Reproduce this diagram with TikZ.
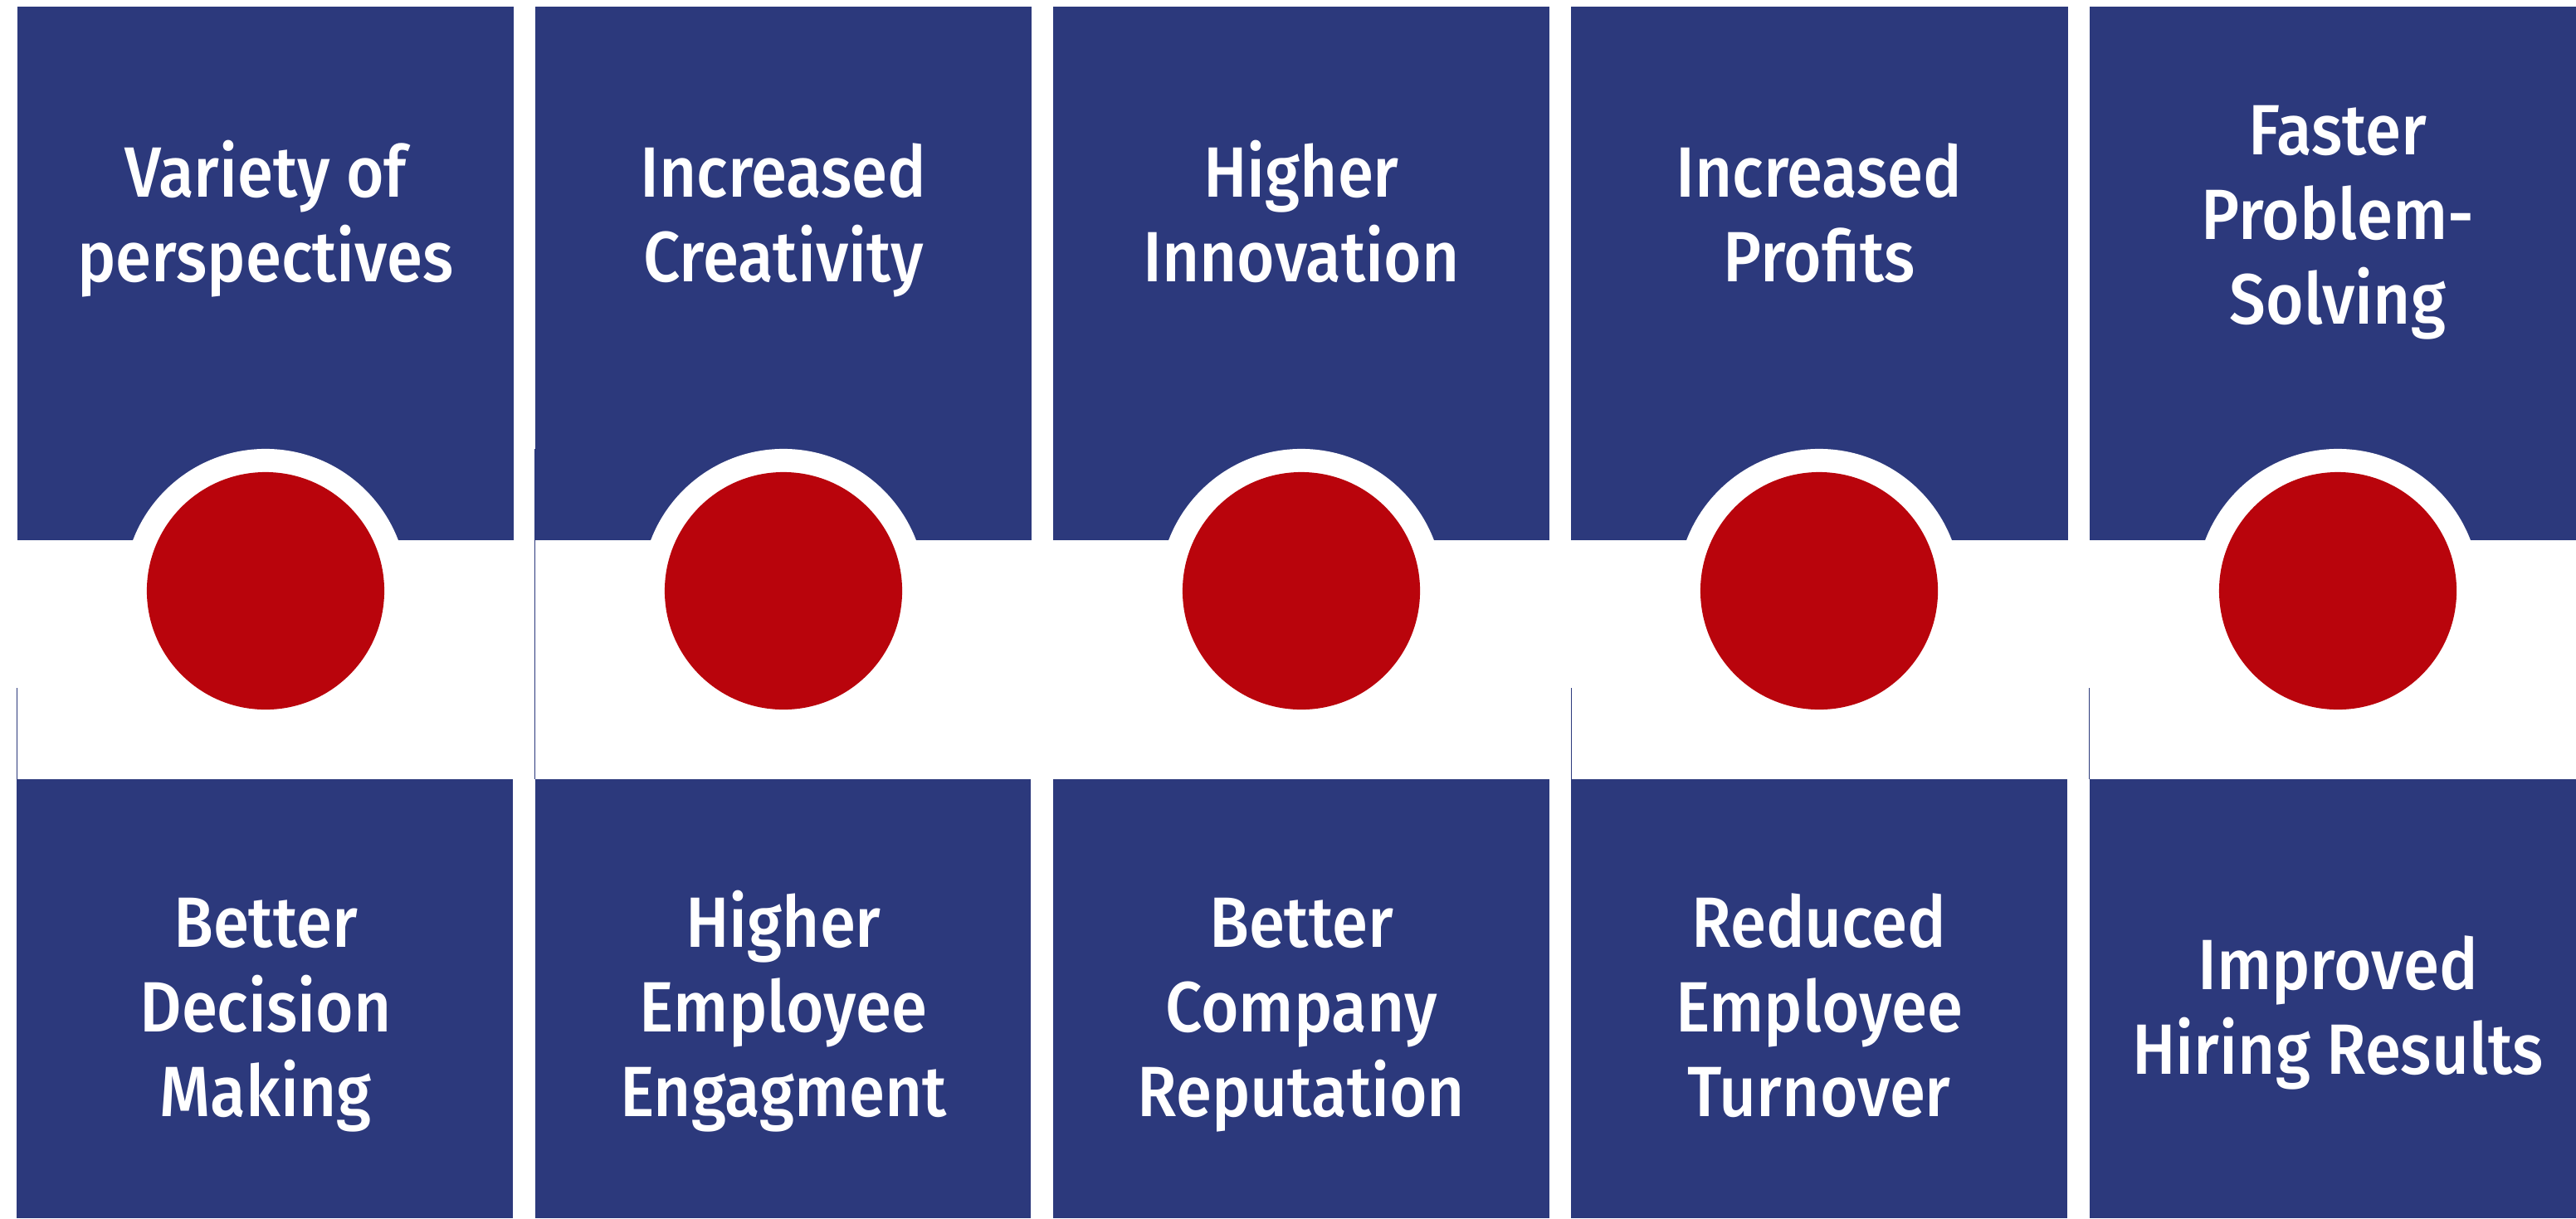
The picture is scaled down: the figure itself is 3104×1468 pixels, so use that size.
\documentclass[tikz,border=0pt]{standalone}
\usepackage{fontspec}
\setmainfont{Fira Sans}[UprightFont=* Medium, FakeStretch=0.91]
\usepackage{tikz}
\definecolor{navy}{RGB}{44,57,124}
\definecolor{dotred}{RGB}{185,4,12}

\begin{document}
\begin{tikzpicture}[x=0.01cm, y=-0.01cm,
  box/.style={fill=navy},
  seam/.style={draw=navy, line width=0.3pt},
  ring/.style={circle, fill=white, inner sep=0pt, minimum size=3.42cm},
  dot/.style={circle, fill=dotred, inner sep=0pt, minimum size=2.86cm},
  txt/.style={text=white, align=center, inner sep=0pt, font=\fontsize{24.4}{29}\selectfont}]

\clip (0,0) rectangle (3104,1468);
\fill[white] (0,0) rectangle (3104,1468);

%% upper and lower blocks
\fill[box] (21,8) rectangle (619,651);
\fill[box] (645,8) rectangle (1243,651);
\fill[box] (1269,8) rectangle (1867,651);
\fill[box] (1893,8) rectangle (2492,651);
\fill[box] (2518,8) rectangle (3116,651);

\fill[box] (20,939) rectangle (618,1468);
\fill[box] (645,939) rectangle (1242,1468);
\fill[box] (1269,939) rectangle (1867,1468);
\fill[box] (1893,939) rectangle (2491,1468);
\fill[box] (2518,939) rectangle (3116,1468);

%% thin edges left over between the blocks
\draw[seam] (20.5,829) -- (20.5,939);
\draw[seam] (644.5,541) -- (644.5,939);
\draw[seam] (1893.5,829) -- (1893.5,939);
\draw[seam] (2517.5,829) -- (2517.5,939);

%% red dots with white rings
\path
(320,712) node[ring](ring1){}
(944,712) node[ring](ring2){}
(1568,712) node[ring](ring3){}
(2192,712) node[ring](ring4){}
(2817,712) node[ring](ring5){};
\node[dot] (dot1) at (ring1) {};
\node[dot] (dot2) at (ring2) {};
\node[dot] (dot3) at (ring3) {};
\node[dot] (dot4) at (ring4) {};
\node[dot] (dot5) at (ring5) {};

%% texts above
\node[txt] (up1) at (320,268) {\strut Variety of\\\strut perspectives};
\node[txt] (up2) at (944,268) {\strut Increased\\\strut Creativity};
\node[txt] (up3) at (1568,268) {\strut Higher\\\strut Innovation};
\node[txt] (up4) at (2192,268) {\strut Increased\\\strut Profits};
\node[txt] (up5) at (2817,268) {\strut Faster\\\strut Problem-\\\strut Solving};

%% texts below
\node[txt] (down1) at (320,1223) {\strut Better\\\strut Decision\\\strut Making};
\node[txt] (down2) at (944,1223) {\strut Higher\\\strut Employee\\\strut Engagment};
\node[txt] (down3) at (1568,1223) {\strut Better\\\strut Company\\\strut Reputation};
\node[txt] (down4) at (2192,1223) {\strut Reduced\\\strut Employee\\\strut Turnover};
\node[txt] (down5) at (2817,1223) {\strut Improved\\\strut Hiring Results};

\end{tikzpicture}
\end{document}
